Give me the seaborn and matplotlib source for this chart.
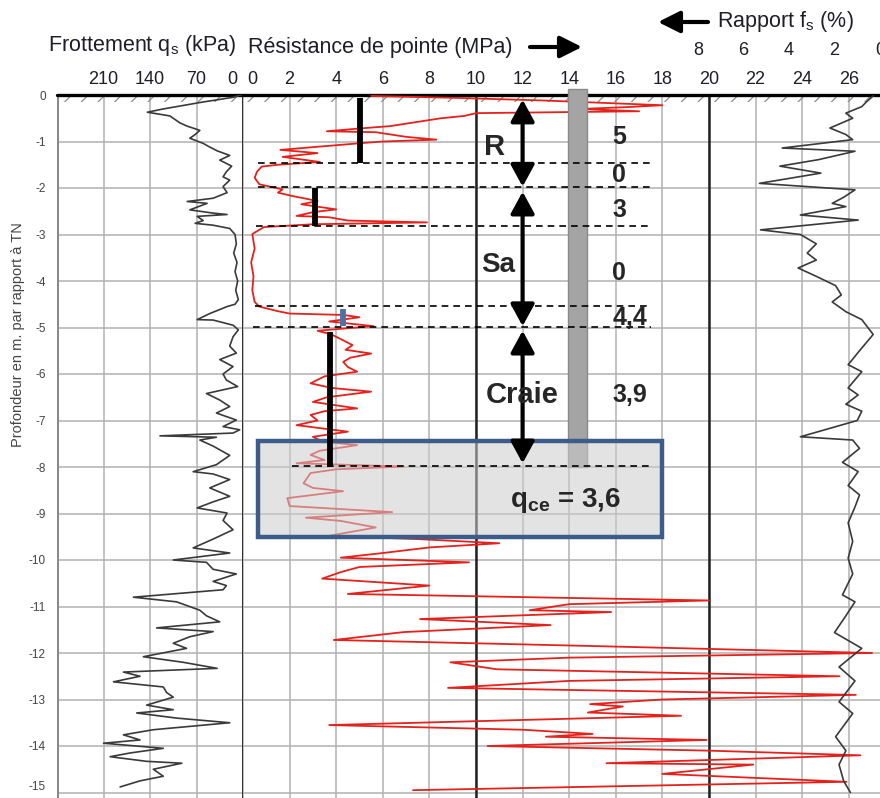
import matplotlib
matplotlib.use("Agg")
import matplotlib.pyplot as plt
import seaborn as sns
import numpy as np
import pandas as pd
from matplotlib.patches import Rectangle

# ---------------- data ----------------
qs_depth = [0.0, -0.05, -0.15, -0.3, -0.37, -0.45, -0.6, -0.67, -0.76, -0.85, -0.93, -1.04, -1.12, -1.2,
            -1.3, -1.4, -1.53, -1.65, -1.76, -1.83, -1.97, -2.1, -2.22, -2.29, -2.33, -2.47, -2.54, -2.57,
            -2.61, -2.7, -2.76, -2.8, -2.87, -3.0, -3.2, -3.4, -3.6, -3.8, -4.0, -4.2, -4.4, -4.5, -4.55,
            -4.7, -4.83, -4.84, -4.95, -5.05, -5.2, -5.4, -5.55, -5.69, -5.84, -6.0, -6.13, -6.27, -6.42,
            -6.56, -6.7, -6.84, -6.99, -7.13, -7.2, -7.27, -7.33, -7.36, -7.42, -7.55, -7.63, -7.75, -7.95,
            -8.1, -8.15, -8.27, -8.45, -8.63, -8.75, -8.88, -8.99, -9.15, -9.35, -9.55, -9.74, -9.85, -10.0,
            -10.05, -10.2, -10.3, -10.46, -10.55, -10.64, -10.8, -10.9, -11.08, -11.2, -11.33, -11.46, -11.54,
            -11.65, -11.79, -11.9, -12.08, -12.2, -12.33, -12.41, -12.5, -12.62, -12.73, -12.85, -12.95,
            -13.12, -13.22, -13.29, -13.4, -13.5, -13.65, -13.76, -13.87, -13.94, -14.05, -14.15, -14.23,
            -14.33, -14.37, -14.5, -14.65, -14.75, -14.88]
qs_kpa = [3, 15, 60, 120, 144, 110, 95, 84, 65, 72, 80, 60, 50, 39,
          20, 35, 17, 25, 30, 20, 30, 24, 45, 84, 54, 80, 45, 24,
          69, 60, 72, 45, 20, 12, 10, 14, 9, 12, 8, 11, 7, 12, 24,
          50, 69, 45, 15, 7, 15, 20, 10, 35, 15, 30, 25, 8, 55,
          35, 20, 40, 10, 30, 5, 15, 125, 40, 65, 45, 35, 20, 40,
          75, 45, 20, 50, 20, 45, 69, 24, 30, 15, 45, 75, 20, 105,
          55, 45, 10, 45, 25, 30, 165, 100, 65, 55, 35, 130, 45,
          80, 105, 85, 150, 90, 39, 180, 155, 195, 120, 115, 105,
          145, 105, 160, 100, 20, 135, 180, 155, 210, 120, 170, 200,
          145, 92, 135, 120, 155, 185]

qc_depth = [-0.02, -0.06, -0.12, -0.18, -0.22, -0.26, -0.3, -0.35, -0.39, -0.45, -0.5, -0.6, -0.67, -0.72,
            -0.78, -0.8, -0.9, -0.96, -1.0, -1.03, -1.1, -1.18, -1.25, -1.33, -1.44, -1.5, -1.54, -1.65,
            -1.78, -1.92, -2.03, -2.1, -2.17, -2.28, -2.35, -2.46, -2.52, -2.6, -2.63, -2.7, -2.74, -2.78,
            -2.84, -2.99, -3.3, -3.6, -3.9, -4.2, -4.45, -4.55, -4.65, -4.7, -4.73, -4.78, -4.87, -4.97,
            -5.07, -5.15, -5.25, -5.38, -5.48, -5.56, -5.65, -5.74, -5.85, -5.95, -6.05, -6.2, -6.3, -6.38,
            -6.5, -6.6, -6.74, -6.8, -6.88, -7.0, -7.1, -7.24, -7.35, -7.45, -7.53, -7.65, -7.74, -7.85,
            -7.92, -7.99, -8.05, -8.13, -8.35, -8.45, -8.52, -8.67, -8.84, -8.97, -9.09, -9.16, -9.3, -9.48,
            -9.55, -9.64, -9.73, -9.85, -9.95, -10.05, -10.15, -10.26, -10.4, -10.55, -10.73, -10.87,
            -10.95, -11.08, -11.12, -11.27, -11.4, -11.55, -11.72, -11.85, -12.0, -12.1, -12.2, -12.35,
            -12.5, -12.6, -12.75, -12.9, -13.0, -13.1, -13.15, -13.28, -13.35, -13.55, -13.65, -13.74,
            -13.8, -13.87, -14.0, -14.1, -14.2, -14.37, -14.4, -14.6, -14.77, -14.95]
qc_mpa = [5.5, 9, 13, 16, 18, 16.5, 14.5, 17, 10, 9.5, 8.5, 7.2, 6.3, 5.0,
          3.6, 5.7, 7, 8.3, 6, 5.2, 3.5, 1.6, 3.2, 1.7, 3.3, 1.5, 0.8, 0.6,
          0.5, 0.7, 1.7, 1.5, 2.1, 3.2, 2.5, 4.0, 3.0, 2.3, 3.7, 4.5, 7.9, 3.0,
          0.9, 0.4, 0.5, 0.35, 0.45, 0.4, 0.5, 0.7, 1.5, 2.0, 4.3, 5.0, 3.7, 5.6,
          3.2, 3.8, 4.2, 4.7, 4.4, 5.5, 4.6, 4.3, 4.5, 4.9, 3.5, 2.9, 3.8, 5.5,
          3.6, 3.0, 4.9, 3.5, 2.9, 3.2, 2.3, 4.5, 3.0, 3.4, 4.9, 3.3, 2.9, 3.5,
          2.3, 6.9, 4.0, 2.9, 2.6, 3.0, 4.3, 1.9, 2.0, 6.4, 2.7, 4.2, 5.7, 3.7,
          7.5, 11.0, 8.0, 6.0, 4.2, 9.7, 5.0, 4.2, 3.4, 8.0, 4.5, 20.0,
          14.0, 12.3, 15.8, 7.6, 13.2, 6.9, 3.9, 15.0, 27.0, 14.0, 8.9, 10.9,
          25.6, 14.0, 8.8, 26.3, 18.0, 14.9, 16.3, 14.8, 18.8, 3.7, 12.0, 15.0,
          13.0, 19.9, 10.5, 20.0, 26.5, 15.6, 21.9, 18.0, 25.9, 7.3]

fs_depth = [-0.02, -0.15, -0.25, -0.39, -0.5, -0.71, -0.85, -0.96, -1.14, -1.21, -1.39, -1.53, -1.68, -1.9,
            -2.04, -2.2, -2.33, -2.4, -2.58, -2.69, -2.9, -3.0, -3.2, -3.4, -3.55, -3.72, -3.9, -4.1, -4.3,
            -4.45, -4.66, -4.83, -5.15, -5.5, -5.8, -5.95, -6.3, -6.45, -6.65, -6.8, -7.0, -7.35, -7.42,
            -7.6, -7.9, -8.1, -8.4, -8.6, -8.86, -9.2, -9.6, -9.96, -10.3, -10.75, -10.9, -11.2, -11.56,
            -11.9, -12.3, -12.6, -13.05, -13.3, -13.8, -14.1, -14.4, -14.75, -15.0]
fs_pct = [0.3, 0.6, 0.8, 1.5, 1.2, 2.2, 1.5, 1.2, 4.3, 1.1, 2.7, 4.4, 2.6, 5.3,
          1.1, 1.6, 2.1, 1.5, 3.5, 0.96, 5.25, 3.5, 2.8, 3.2, 2.8, 3.6, 2.8, 1.95, 1.7,
          2.1, 1.5, 0.8, 0.3, 0.9, 1.4, 0.8, 1.4, 0.96, 1.5, 0.8, 1.0, 3.5, 1.2,
          0.9, 1.65, 0.96, 1.4, 0.9, 1.1, 1.4, 1.2, 1.4, 1.2, 1.65, 1.1, 1.5, 2.0,
          0.8, 1.8, 1.1, 1.8, 1.2, 1.95, 1.5, 1.8, 1.6, 1.3]

qs_ticks = [210, 140, 70, 0]
qc_ticks = list(range(0, 27, 2))
fs_ticks = [8, 6, 4, 2, 0]
depth_ticks = list(range(0, -16, -1))

# layer interpretation
layer_bounds = [-1.46, -1.97, -2.82, -4.54, -4.99, -7.98]
layer_dash_start = [0.65, 0.65, 0.55, 0.5, 0.45, 2.1]
mean_qc = [5.0, 3.1, 4.3, 3.75]
mean_top = [-0.06, -2.0, -4.6, -5.1]
mean_bot = [-1.46, -2.82, -4.97, -8.0]
mean_col = ["black", "black", "#4d72a6", "black"]
value_labels = ["5", "0", "3", "0", "4,4", "3,9"]
value_depths = [-0.9, -1.73, -2.47, -3.83, -4.8, -6.45]
unit_names = ["R", "Sa", "Craie"]
unit_top = [-0.1, -2.08, -5.07]
unit_bot = [-1.97, -4.97, -7.92]
unit_label_depth = [-1.11, -3.65, -6.45]
qce_value = "3,6"

# ---------------- style ----------------
sns.set_theme(style="white")
plt.rcParams["font.family"] = ["Liberation Sans", "DejaVu Sans"]
plt.rcParams["mathtext.fontset"] = "custom"
plt.rcParams["mathtext.rm"] = "Liberation Sans"
plt.rcParams["mathtext.bf"] = "Liberation Sans:bold"
plt.rcParams["axes.unicode_minus"] = False
plt.rcParams["hatch.linewidth"] = 0.9

W, H = 880, 798
fig = plt.figure(figsize=(W / 100, H / 100), dpi=100)
top_px = 95
ax_h = (H - top_px) / H
ymin = -(H - top_px) / 46.5

ax_qs = fig.add_axes([57 / W, 0, (243 - 57) / W, ax_h])
ax_qc = fig.add_axes([243 / W, 0, (W - 243) / W, ax_h])
qc_max = (W - 243) / 23.3
ax_qs.set_xlim(280, 0)
ax_qc.set_xlim(0, qc_max)
for a in (ax_qs, ax_qc):
    a.set_ylim(ymin, 0)
    a.set_facecolor("none")
    for s in a.spines.values():
        s.set_visible(False)

grid_col = "#b2b2b2"
# curves
sns.lineplot(x=qs_kpa, y=qs_depth, ax=ax_qs, sort=False, estimator=None, orient="y",
             color="#3a3a3a", lw=1.2, zorder=2)
sns.lineplot(x=qc_mpa, y=qc_depth, ax=ax_qc, sort=False, estimator=None, orient="y",
             color="#e5211c", lw=1.3, zorder=2)
ax_fs = ax_qc.twiny()
ax_fs.set_xlim(28, 28 - qc_max)
ax_fs.set_ylim(ymin, 0)
for s in ax_fs.spines.values():
    s.set_visible(False)
sns.lineplot(x=fs_pct, y=fs_depth, ax=ax_fs, sort=False, estimator=None, orient="y",
             color="#3a3a3a", lw=1.2, zorder=2)

# ticks
ax_qs.xaxis.tick_top()
ax_qs.set_xticks(qs_ticks)
ax_qs.set_xticklabels([str(t) for t in qs_ticks[:-1]] + ["0 "])
ax_qs.get_xticklabels()[-1].set_ha("right")
ax_qs.set_yticks(depth_ticks)
ax_qs.set_yticklabels([str(t) for t in depth_ticks])
ax_qs.get_yticklabels()[-1].set_va("bottom")
ax_qs.tick_params(axis="x", length=0, pad=5, labelsize=13, labelcolor="#1e1e28")
ax_qs.tick_params(axis="y", length=0, pad=8, labelsize=8.5, labelcolor="#444444")

ax_qc.xaxis.tick_top()
ax_qc.set_xticks(qc_ticks)
ax_qc.set_xticklabels([" 0"] + [str(t) for t in qc_ticks[1:]])
ax_qc.get_xticklabels()[0].set_ha("left")
ax_qc.set_yticks(depth_ticks)
ax_qc.tick_params(axis="x", length=0, pad=5, labelsize=13, labelcolor="#1e1e28")
ax_qc.tick_params(axis="y", left=False, labelleft=False, length=0)

ax_fs.set_xticks(fs_ticks)
ax_fs.set_xticklabels([str(t) for t in fs_ticks])
ax_fs.tick_params(axis="x", length=0, pad=26, labelsize=13, labelcolor="#1e1e28")
ax_fs.tick_params(axis="y", left=False, labelleft=False, right=False, labelright=False)

for a in (ax_qs, ax_qc, ax_fs):
    a.set_xlabel("")
    a.set_ylabel("")

for a in (ax_qs, ax_qc):
    a.grid(True, color=grid_col, lw=1.1, zorder=0)
    a.set_axisbelow(True)

# frame lines
ax_qs.axvline(280, color="#8a8a8a", lw=2.2, zorder=1)
ax_qs.axvline(0, color="black", lw=1.8, zorder=1.5)
for xv in (10, 20):
    ax_qc.axvline(xv, color="#222222", lw=1.8, zorder=1.5)
for a in (ax_qs, ax_qc):
    a.axhline(0, color="black", lw=2.4, zorder=1.6, clip_on=False)
    x0, x1 = a.get_xlim()
    a.add_patch(Rectangle((min(x0, x1), -0.16), abs(x1 - x0), 0.16, hatch="//",
                          facecolor="none", edgecolor="#8c8c8c", lw=0, zorder=1.2))

# grey bar
ax_qc.add_patch(Rectangle((13.95, -8.0), 0.8, 8.13, facecolor="#a4a4a4", edgecolor="#8a8a8a",
                          lw=1.0, zorder=2.5, clip_on=False))
# box
ax_qc.add_patch(Rectangle((0.65, -9.5), 17.35, 2.06, facecolor="#cdcdcd", alpha=0.55,
                          edgecolor="none", zorder=3))
ax_qc.add_patch(Rectangle((0.65, -9.5), 17.35, 2.06, facecolor="none",
                          edgecolor="#3c5d8a", lw=3.2, zorder=3.1))

# dashed layer boundaries
for d, xs in zip(layer_bounds, layer_dash_start):
    ax_qc.plot([xs, 17.5], [d, d], color="black", lw=1.2, ls=(0, (4, 3)), zorder=3.5)

# mean bars
for v, t, b, c in zip(mean_qc, mean_top, mean_bot, mean_col):
    ax_qc.vlines(v, b, t, color=c, lw=4.2, zorder=4)

# unit arrows
for name, t, b, ld in zip(unit_names, unit_top, unit_bot, unit_label_depth):
    ax_qc.annotate("", xy=(12, t), xytext=(12, b),
                   arrowprops=dict(arrowstyle="<|-|>,head_length=0.55,head_width=0.3",
                                   color="black", lw=3, mutation_scale=24,
                                   shrinkA=0, shrinkB=0), zorder=4)
ax_qc.text(11.25, unit_label_depth[0], unit_names[0], ha="right", va="center",
           fontsize=21, fontweight="bold", zorder=5)
ax_qc.text(11.7, unit_label_depth[1], unit_names[1], ha="right", va="center",
           fontsize=20, fontweight="bold", zorder=5)
ax_qc.text(12.0, unit_label_depth[2], unit_names[2], ha="center", va="center",
           fontsize=21, fontweight="bold", zorder=5)

for lab, d in zip(value_labels, value_depths):
    ax_qc.text(15.85, d, lab, ha="left", va="center", fontsize=18, fontweight="bold", zorder=5)

ax_qc.text(13.85, -8.71, r"q$_{\mathbf{ce}}$ = " + qce_value, ha="center", va="center",
           fontsize=20, fontweight="bold", zorder=5)

# titles
def fx(px):
    return px / W

def fy(py):
    return 1 - py / H

fig.text(fx(48), fy(45), r"Frottement q$_\mathrm{s}$ (kPa)", ha="left", va="center",
         fontsize=15.5, color="#1e1e28")
fig.text(fx(248), fy(47), "Résistance de pointe (MPa)", ha="left", va="center",
         fontsize=15.5, color="#1e1e28")
fig.text(fx(717), fy(22), r"Rapport f$_\mathrm{s}$ (%)", ha="left", va="center",
         fontsize=15.5, color="#1e1e28")
ax_qc.annotate("", xy=(582, H - 47), xytext=(530, H - 47), xycoords="figure pixels",
               textcoords="figure pixels",
               arrowprops=dict(arrowstyle="-|>,head_length=0.6,head_width=0.3", color="black",
                               lw=3, mutation_scale=22, shrinkA=0, shrinkB=0))
ax_qc.annotate("", xy=(658, H - 22), xytext=(708, H - 22), xycoords="figure pixels",
               textcoords="figure pixels",
               arrowprops=dict(arrowstyle="-|>,head_length=0.6,head_width=0.3", color="black",
                               lw=3, mutation_scale=22, shrinkA=0, shrinkB=0))
fig.text(fx(18), fy(335), "Profondeur en m. par rapport à TN", rotation=90, ha="center",
         va="center", fontsize=10.5, color="#444444")

fig.savefig("out.png", dpi=100)
